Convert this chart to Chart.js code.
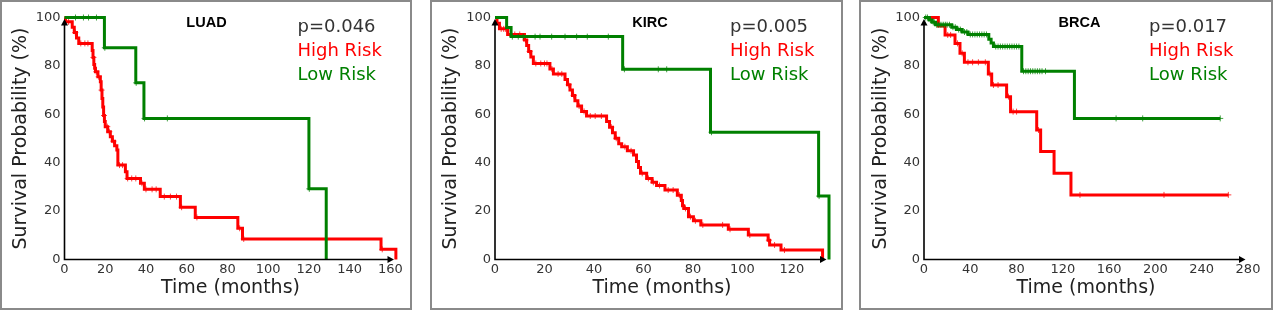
<!DOCTYPE html>
<html>
<head>
<meta charset="utf-8">
<title>Kaplan-Meier survival: LUAD, KIRC, BRCA</title>
<script src="https://cdn.jsdelivr.net/npm/chart.js@4.4.1/dist/chart.umd.min.js"></script>
<style>
  html, body { margin: 0; padding: 0; background: #fff; }
  body { width: 1274px; height: 310px; position: relative; overflow: hidden; }
  .frame { position: absolute; top: 0; height: 310px; box-sizing: border-box; border: 2px solid #8a8a8a; }
  .panel { position: absolute; top: 0; height: 310px; }
</style>
</head>
<body>
<div class="frame" style="left:0;width:412px"></div>
<div class="frame" style="left:430px;width:413px"></div>
<div class="frame" style="left:859px;width:414px"></div>
<div class="panel" style="left:0;width:412px"><canvas id="luadChart"></canvas></div>
<div class="panel" style="left:430px;width:413px"><canvas id="kircChart"></canvas></div>
<div class="panel" style="left:859px;width:414px"><canvas id="brcaChart"></canvas></div>
<script>
// ----------- Data (months / survival %) -----------
const yTicks = [0, 20, 40, 60, 80, 100];

// LUAD
const luadTicks = [0, 20, 40, 60, 80, 100, 120, 140, 160];
const luadHighTime = [0, 0.5, 3.8, 4.8, 5.9, 7.0, 13.6, 14.0, 14.4, 14.8, 15.2, 16.4, 17.6, 18.0, 18.4, 18.8, 19.2, 19.6, 20.0, 21.2, 22.5, 23.5, 24.6, 25.7, 26.2, 29.9, 30.7, 37.3, 39.2, 47.0, 56.9, 64.2, 85.1, 87.4, 155.4, 162.7];
const luadHighSurv = [100, 98.2, 96.0, 93.8, 91.5, 89.3, 86.4, 83.5, 80.6, 79.0, 77.6, 75.5, 73.5, 70.0, 66.5, 63.0, 59.5, 57.0, 54.9, 52.8, 50.7, 48.9, 47.0, 45.2, 39.0, 36.3, 33.5, 31.5, 29.0, 26.0, 21.6, 17.4, 12.9, 8.5, 4.2, 0];
const luadHighCens = [2, 5.3, 8, 10, 11.5, 14.2, 15.6, 16.8, 18.2, 19.4, 21, 22, 24, 27, 28.5, 31, 33, 35, 38, 40, 43, 45, 49, 52, 55, 57.5, 65, 86, 88, 156];
const luadLowTime = [0, 19.6, 35.0, 39.0, 120.0, 128.5];
const luadLowSurv = [100, 87.5, 73.0, 58.3, 29.2, 0];
const luadLowCens = [5.4, 9.3, 11.8, 15.7, 19.8, 35.2, 39.3, 50.5, 120.2];

// KIRC
const kircTicks = [0, 20, 40, 60, 80, 100, 120];
const kircHighTime = [0, 0.8, 1.8, 5.1, 11.9, 12.8, 13.6, 14.5, 15.5, 22.2, 23.6, 28.3, 29.3, 30.3, 31.3, 32.3, 33.5, 35.0, 37.0, 45.1, 46.3, 47.5, 48.6, 50.0, 51.2, 53.5, 56.0, 57.2, 58.0, 58.8, 61.3, 63.5, 65.3, 68.7, 73.7, 75.3, 75.8, 76.3, 78.2, 80.2, 83.2, 94.3, 102.4, 110.4, 111.0, 115.6, 132.4];
const kircHighSurv = [100, 97.6, 95.3, 93.0, 90.7, 88.4, 86.0, 83.7, 81.0, 78.7, 76.7, 74.4, 72.2, 70.0, 67.8, 65.6, 63.4, 61.2, 59.3, 57.0, 54.7, 52.4, 50.1, 47.8, 46.6, 44.9, 43.2, 40.5, 38.0, 35.6, 33.5, 31.9, 30.6, 28.7, 26.6, 24.4, 22.2, 21.1, 17.7, 16.0, 14.3, 12.5, 10.1, 8.0, 6.0, 3.9, 0];
const kircHighCens = [2.5, 3.5, 4.2, 8, 10, 12.3, 14, 16.5, 18.5, 20, 21, 23, 25.5, 27, 29.8, 31.8, 34, 36, 38.5, 40.5, 43, 47, 49, 52.5, 55, 59.5, 62, 64, 66.5, 70, 72, 74.5, 77, 79, 81, 84, 92, 95, 103, 110.7, 113, 117];
const kircLowTime = [0, 4.7, 6.5, 51.6, 87.1, 130.8, 135.0];
const kircLowSurv = [100, 95.9, 92.1, 78.6, 52.6, 26.2, 0];
const kircLowCens = [7.0, 9.4, 11.4, 16.2, 18.2, 22.9, 28.3, 33.0, 37.3, 45.8, 52.3, 66.0, 69.4, 87.5, 131];

// BRCA
const brcaTicks = [0, 40, 80, 120, 160, 200, 240, 280];
const brcaHighTime = [0, 12.4, 18.2, 26.8, 31.1, 34.9, 55.6, 58.5, 71.4, 74.8, 97.4, 100.8, 112.4, 127, 263];
const brcaHighSurv = [100, 96.5, 92.8, 89.3, 85.2, 81.5, 76.7, 72.1, 67.3, 61.1, 53.5, 44.6, 35.6, 26.7, 26.7];
const brcaHighCens = [20.5, 23, 29, 33, 38, 42, 47, 53, 57, 60, 64, 73, 77, 80, 99, 134.8, 207.4, 263];
const brcaLowTime = [0, 4.5, 7, 10, 24, 28, 33, 38, 56, 58, 60, 84.5, 130, 256];
const brcaLowSurv = [100, 99, 98, 97, 96, 95, 94, 93, 91, 89.5, 88, 77.8, 58.3, 58.3];
const brcaLowCens = [1.5, 3, 5.5, 8, 9, 11, 12.5, 14, 15.5, 17, 18.5, 20, 22, 25, 27, 30, 31.5, 35, 37, 40, 42, 44, 46, 48, 50, 52, 54, 62, 64, 66, 68, 70, 72, 74, 76, 78, 80, 82, 86, 88, 90, 92, 94, 96, 98, 100, 102, 105, 166, 189, 256];

// ----------- Helpers -----------
const RED = '#ff0000', GREEN = '#008000';
Chart.defaults.font.family = '"DejaVu Sans", Verdana, sans-serif';
Chart.defaults.color = '#333';

function survAt(times, surv, t) {
  let s = surv[0];
  for (let i = 0; i < times.length; i++) if (times[i] <= t) s = surv[i];
  return s;
}

function kmDatasets(times, surv, cens, color, censColor) {
  return [
    { data: times.map((t, i) => ({ x: t, y: surv[i] })), borderColor: color, borderWidth: 3,
      stepped: true, pointRadius: 0, fill: false, clip: 4 },
    { data: cens.map(t => ({ x: t, y: survAt(times, surv, t) })), showLine: false, clip: 4,
      pointStyle: 'cross', pointRadius: 3, borderColor: censColor, borderWidth: 1, pointHoverRadius: 3 }
  ];
}

// axes with arrow heads, title, p value and legend text
const kmDecor = {
  id: 'kmDecor',
  afterDraw(chart, args, opts) {
    const { ctx, chartArea: a } = chart;
    ctx.save();
    ctx.strokeStyle = '#000';
    ctx.lineWidth = 1.6;
    ctx.beginPath();
    ctx.moveTo(a.left, a.top + 4);
    ctx.lineTo(a.left, a.bottom);
    ctx.lineTo(a.right - 6, a.bottom);
    ctx.stroke();
    ctx.fillStyle = '#000';
    ctx.beginPath();
    ctx.moveTo(a.right - 2.5, a.bottom);
    ctx.lineTo(a.right - 9, a.bottom - 3.5);
    ctx.lineTo(a.right - 9, a.bottom + 3.5);
    ctx.fill();
    ctx.beginPath();
    ctx.moveTo(a.left, a.top + 1.5);
    ctx.lineTo(a.left - 3.5, a.top + 8);
    ctx.lineTo(a.left + 3.5, a.top + 8);
    ctx.fill();

    ctx.font = 'bold 14.5px "Liberation Sans", Arial, sans-serif';
    ctx.textAlign = 'center';
    ctx.textBaseline = 'alphabetic';
    ctx.fillText(opts.title, a.left + opts.titleX, 26.5);

    ctx.font = '18px "DejaVu Sans"';
    ctx.textAlign = 'left';
    const tx = a.right - 99;
    ctx.fillStyle = '#333';
    ctx.fillText(opts.pText, tx, 31.5);
    ctx.fillStyle = RED;
    ctx.fillText('High Risk', tx, 55.8);
    ctx.fillStyle = GREEN;
    ctx.fillText('Low Risk', tx, 80);
    ctx.restore();
  }
};

function makeKM(id, cfg) {
  return new Chart(document.getElementById(id), {
    type: 'line',
    data: { datasets: [
      ...kmDatasets(cfg.lowTime, cfg.lowSurv, cfg.lowCens, GREEN, 'rgba(0,128,0,0.75)'),
      ...kmDatasets(cfg.highTime, cfg.highSurv, cfg.highCens, RED, 'rgba(255,0,0,0.75)')
    ] },
    options: {
      responsive: true,
      maintainAspectRatio: false,
      animation: false,
      events: [],
      layout: { padding: { left: 0, top: 17.5, right: cfg.padRight, bottom: 0 } },
      plugins: {
        legend: { display: false },
        tooltip: { enabled: false },
        kmDecor: { title: cfg.title, titleX: cfg.titleX, pText: cfg.pText }
      },
      scales: {
        x: {
          type: 'linear', min: 0, max: cfg.xMax,
          grid: { display: false, drawTicks: false },
          border: { display: false },
          afterBuildTicks: s => { s.ticks = cfg.xTicks.map(v => ({ value: v })); },
          afterFit: s => { s.height = 50.5; },
          ticks: { autoSkip: false, maxRotation: 0, padding: 2, font: { size: 13 }, color: '#333' },
          title: { display: true, text: 'Time (months)', color: '#222',
                   font: { size: 19 }, padding: { top: 0, bottom: 10.5 } }
        },
        y: {
          min: 0, max: 100,
          grid: { display: false, drawTicks: false },
          border: { display: false },
          afterBuildTicks: s => { s.ticks = yTicks.map(v => ({ value: v })); },
          afterFit: s => { s.width = cfg.yWidth; },
          ticks: { padding: 4, font: { size: 13 }, color: '#333' },
          title: { display: true, text: 'Survival Probability (%)', color: '#222',
                   font: { size: 19 }, padding: { top: cfg.yTitlePad, bottom: 0 } }
        }
      }
    },
    plugins: [kmDecor]
  });
}

// ----------- Charts -----------
makeKM('luadChart', {
  title: 'LUAD', titleX: 142, pText: 'p=0.046',
  xMax: 163, xTicks: luadTicks, yWidth: 64.5, padRight: 15.5, yTitlePad: 9.6,
  highTime: luadHighTime, highSurv: luadHighSurv, highCens: luadHighCens,
  lowTime: luadLowTime, lowSurv: luadLowSurv, lowCens: luadLowCens
});

makeKM('kircChart', {
  title: 'KIRC', titleX: 155, pText: 'p=0.005',
  xMax: 135, xTicks: kircTicks, yWidth: 65, padRight: 14, yTitlePad: 9.6,
  highTime: kircHighTime, highSurv: kircHighSurv, highCens: kircHighCens,
  lowTime: kircLowTime, lowSurv: kircLowSurv, lowCens: kircLowCens
});

makeKM('brcaChart', {
  title: 'BRCA', titleX: 155.5, pText: 'p=0.017',
  xMax: 280, xTicks: brcaTicks, yWidth: 65, padRight: 25, yTitlePad: 10.6,
  highTime: brcaHighTime, highSurv: brcaHighSurv, highCens: brcaHighCens,
  lowTime: brcaLowTime, lowSurv: brcaLowSurv, lowCens: brcaLowCens
});
</script>
</body>
</html>
